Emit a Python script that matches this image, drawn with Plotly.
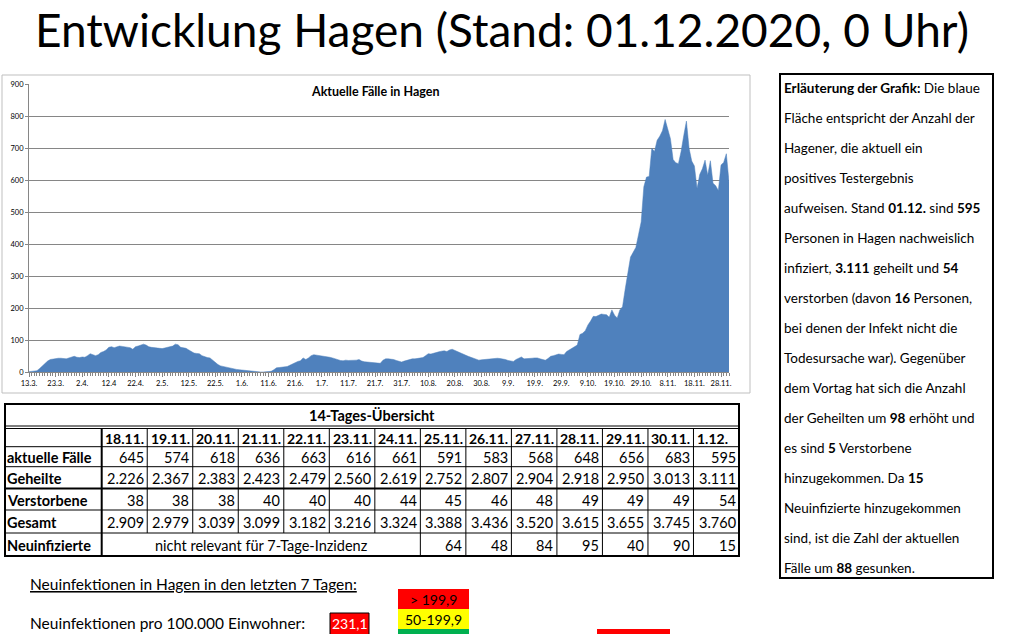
import plotly.graph_objects as go

W, H = 1014, 634

# ---------------- data ----------------
tick_labels = ["13.3.", "23.3.", "2.4.", "12.4", "22.4.", "2.5.", "12.5.", "22.5.", "1.6.",
               "11.6.", "21.6.", "1.7.", "11.7.", "21.7.", "31.7.", "10.8.", "20.8.", "30.8.",
               "9.9.", "19.9.", "29.9.", "9.10.", "19.10.", "29.10.", "8.11.", "18.11.", "28.11."]

# daily current cases 13.3. - 17.11.
cases_early = [
    2, 3, 4, 5, 12, 20, 28, 35, 40, 42,
    43, 44, 44, 43, 42, 45, 48, 50, 47, 46,
    48, 47, 52, 58, 55, 52, 55, 62, 65, 70,
    78, 80, 77, 80, 82, 81, 80, 79, 77, 72,
    80, 82, 85, 88, 85, 80, 78, 77, 75, 76,
    74, 76, 78, 80, 82, 88, 86, 78, 76, 75,
    70, 64, 60, 59, 58, 52, 48, 46, 45, 38,
    30, 24, 20, 18, 16, 13, 12, 10, 9, 8,
    7, 6, 5, 3, 2, 2, 1, 1, 1, 1,
    2, 3, 8, 14, 15, 16, 17, 18, 22, 27,
    30, 34, 36, 45, 40, 45, 52, 55, 54, 52,
    51, 50, 48, 47, 45, 42, 39, 37, 36, 38,
    37, 37, 36, 38, 40, 35, 33, 32, 31, 30,
    30, 29, 28, 38, 42, 42, 42, 40, 37, 34,
    32, 35, 38, 41, 42, 42, 43, 44, 46, 52,
    58, 57, 60, 63, 64, 66, 67, 65, 70, 72,
    68, 64, 60, 57, 53, 50, 47, 44, 41, 38,
    39, 40, 40, 41, 43, 45, 44, 43, 42, 40,
    37, 35, 34, 40, 45, 48, 42, 42, 43, 44,
    45, 45, 42, 40, 38, 43, 50, 52, 55, 57,
    56, 55, 65, 70, 74, 78, 85, 118, 122, 130,
    148, 160, 175, 174, 178, 182, 181, 180, 172, 195,
    178, 170, 195, 205, 260, 310, 360, 375, 390, 430,
    470, 580, 610, 612, 700, 690, 725, 738, 755, 790,
    760, 730, 665, 655, 652, 690, 740, 785, 700, 660,
]

# 14-day overview table
table_dates = ["18.11.", "19.11.", "20.11.", "21.11.", "22.11.", "23.11.", "24.11.",
               "25.11.", "26.11.", "27.11.", "28.11.", "29.11.", "30.11.", "1.12."]
aktuelle_faelle = [645, 574, 618, 636, 663, 616, 661, 591, 583, 568, 648, 656, 683, 595]
geheilte = [2226, 2367, 2383, 2423, 2479, 2560, 2619, 2752, 2807, 2904, 2918, 2950, 3013, 3111]
verstorbene = [38, 38, 38, 40, 40, 40, 44, 45, 46, 48, 49, 49, 49, 54]
gesamt = [2909, 2979, 3039, 3099, 3182, 3216, 3324, 3388, 3436, 3520, 3615, 3655, 3745, 3760]
neuinfizierte = [None, None, None, None, None, None, None, 64, 48, 84, 95, 40, 90, 15]

cases = cases_early + aktuelle_faelle
days = list(range(len(cases)))

inzidenz = "231,1"

FONT = "Lato"


def px(x):
    return x / W


def py(y):
    return 1 - y / H


def de(n):
    return f"{n:,}".replace(",", ".")


fig = go.Figure()
fig.add_trace(go.Scatter(
    x=days, y=cases, mode="lines", fill="tozeroy",
    line=dict(color="#4F81BD", width=0.5), fillcolor="#4F81BD",
    hoverinfo="skip", showlegend=False))

X0, X1, Y0, Y1 = 29, 729, 84.3, 372.3
fig.update_layout(
    width=W, height=H, margin=dict(l=0, r=0, t=0, b=0, autoexpand=False),
    paper_bgcolor="white", plot_bgcolor="white",
    font=dict(family=FONT, color="black"),
    xaxis=dict(domain=[px(X0), px(X1)], range=[0, len(cases) - 1], automargin=False,
               tickmode="array", tickvals=list(range(0, len(cases), 10)), ticktext=tick_labels,
               showgrid=False, zeroline=False, showline=True, linecolor="#868686", linewidth=1,
               ticks="outside", ticklen=4, tickcolor="#868686", tickangle=0,
               minor=dict(ticks="outside", dtick=1, tick0=0, ticklen=3, tickcolor="#868686"),
               tickfont=dict(size=7.5, family=FONT, color="black")),
    yaxis=dict(domain=[py(Y1), py(Y0)], range=[0, 900], dtick=100, tick0=0, automargin=False,
               showgrid=True, gridcolor="#868686", gridwidth=1, zeroline=False,
               showline=True, linecolor="#868686", linewidth=1,
               ticks="outside", ticklen=3, tickcolor="#868686",
               tickfont=dict(size=7.5, family=FONT, color="black")),
)

shapes = []
ann = []


def line(x0, y0, x1, y1, w=1, c="black"):
    shapes.append(dict(type="line", xref="paper", yref="paper",
                       x0=px(x0), y0=py(y0), x1=px(x1), y1=py(y1),
                       line=dict(color=c, width=w)))


def rect(x0, y0, x1, y1, fill=None, lc="black", w=1):
    d = dict(type="rect", xref="paper", yref="paper",
             x0=px(x0), y0=py(y0), x1=px(x1), y1=py(y1),
             line=dict(color=lc, width=w))
    if fill:
        d["fillcolor"] = fill
    if w == 0:
        d["line"] = dict(width=0)
    shapes.append(d)


def text(x, y, s, size=13, anchor="left", bold=False, color="black"):
    if bold:
        s = "<b>" + s + "</b>"
    ann.append(dict(xref="paper", yref="paper", x=px(x), y=py(y), text=s,
                    showarrow=False, xanchor=anchor, yanchor="middle",
                    font=dict(family=FONT, size=size, color=color)))


# main title
text(502, 29, "Entwicklung Hagen (Stand: 01.12.2020, 0 Uhr)", size=46, anchor="center")

# chart frame and title
rect(2, 75, 750, 393, lc="#bfbfbf", w=1)
text(375, 92, "Aktuelle Fälle in Hagen", size=12.5, anchor="center", bold=True)

# ---------------- table ----------------
TL, TR = 5, 739
col0 = 101.7
cw = (TR - col0) / 14
rect(TL, 404, TR, 556, w=2)
line(TL, 426, TR, 426, 1)
line(TL, 428.5, TR, 428.5, 1)
for yy in [446.7, 466.7, 510, 533]:
    line(TL, yy, TR, yy, 1)
line(TL, 488.5, TR, 488.5, 2)
line(col0, 428.5, col0, 556, 2)
for k in range(1, 14):
    xx = col0 + k * cw
    bottom = 556 if k >= 7 else 533
    line(xx, 428.5, xx, bottom, 1)

text((TL + TR) / 2, 415.5, "14-Tages-Übersicht", size=14.5, anchor="center", bold=True)
row_labels = ["aktuelle Fälle", "Geheilte", "Verstorbene", "Gesamt", "Neuinfizierte"]
row_cy = [457, 478, 500, 522, 545]
for lab, cy in zip(row_labels, row_cy):
    text(5, cy, lab, size=14.5, bold=True)
for k, d in enumerate(table_dates):
    text(col0 + k * cw + 1.5, 438, d, size=14, bold=True)
    xr = col0 + (k + 1) * cw - 1.5
    text(xr, row_cy[0], str(aktuelle_faelle[k]), size=14.5, anchor="right")
    text(xr, row_cy[1], de(geheilte[k]), size=14.5, anchor="right")
    text(xr, row_cy[2], str(verstorbene[k]), size=14.5, anchor="right")
    text(xr, row_cy[3], de(gesamt[k]), size=14.5, anchor="right")
    if neuinfizierte[k] is not None:
        text(xr, row_cy[4], str(neuinfizierte[k]), size=14.5, anchor="right")
text((col0 + col0 + 7 * cw) / 2, row_cy[4], "nicht relevant für 7-Tage-Inzidenz", size=14.5, anchor="center")

# ---------------- explanation box ----------------
rect(780, 74, 993, 578, w=2)
expl = [
    "<b>Erläuterung der Grafik:</b> Die blaue",
    "Fläche entspricht der Anzahl der",
    "Hagener, die aktuell ein",
    "positives Testergebnis",
    "aufweisen. Stand <b>01.12.</b> sind <b>595</b>",
    "Personen in Hagen nachweislich",
    "infiziert, <b>3.111</b> geheilt und <b>54</b>",
    "verstorben (davon <b>16</b> Personen,",
    "bei denen der Infekt nicht die",
    "Todesursache war). Gegenüber",
    "dem Vortag hat sich die Anzahl",
    "der Geheilten um <b>98</b> erhöht und",
    "es sind <b>5</b> Verstorbene",
    "hinzugekommen. Da <b>15</b>",
    "Neuinfizierte hinzugekommen",
    "sind, ist die Zahl der aktuellen",
    "Fälle um <b>88</b> gesunken.",
]
for i, s in enumerate(expl):
    text(782, 88 + 30 * i, s, size=13.5)

# ---------------- bottom section ----------------
text(28, 584, "<u>Neuinfektionen in Hagen in den letzten 7 Tagen:</u>", size=15.5)
text(28, 623, "Neuinfektionen pro 100.000 Einwohner:", size=15.5)
rect(330, 613, 369, 640, fill="#FF0000", w=1)
text(349.5, 623, inzidenz, size=14, anchor="center", color="white")
rect(398, 589, 469, 609, fill="#FF0000", w=0)
rect(398, 609, 469, 629, fill="#FFFF00", w=0)
rect(398, 629, 469, 640, fill="#00B050", w=0)
text(433.5, 599, "&gt; 199,9", size=14, anchor="center")
text(433.5, 619, "50-199,9", size=14, anchor="center")
rect(597, 629, 670, 640, fill="#FF0000", w=0)

fig.update_layout(shapes=shapes, annotations=ann)
fig.write_html("out.html", config={"displayModeBar": False},
               post_script="document.body.style.margin='0';document.body.style.overflow='hidden';")
